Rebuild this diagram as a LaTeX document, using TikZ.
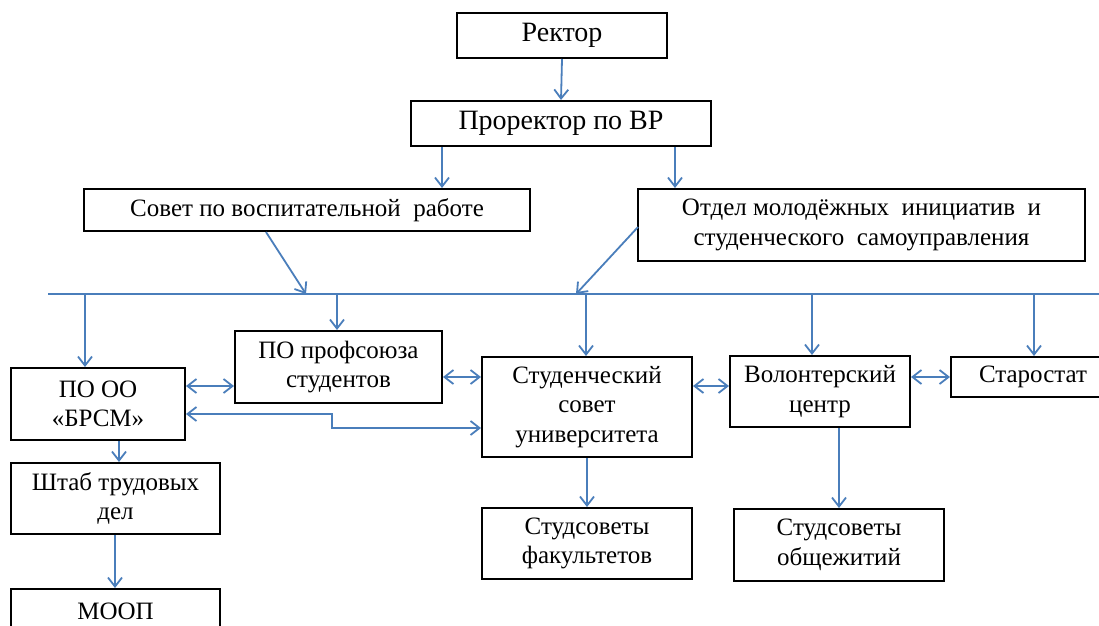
\documentclass[tikz,border=0pt]{standalone}
\usepackage{fontspec}
\setmainfont{Liberation Serif}
\newfontfamily\tnr{Liberation Serif}
\usetikzlibrary{arrows.meta}
\definecolor{conn}{RGB}{74,126,187}
\tikzset{
  box/.style={draw=black, line width=2pt, fill=white, align=center, inner sep=0pt,
    font=\tnr\fontsize{25}{29.5}\selectfont},
  bigbox/.style={box, font=\tnr\fontsize{28}{32}\selectfont},
  txt/.style={align=center, inner sep=0pt, font=\tnr\fontsize{25}{29.5}\selectfont},
  arr/.style={draw=conn, line width=1.8pt, -{Straight Barb[length=9pt,width=14pt,line width=1.8pt]}},
  darr/.style={draw=conn, line width=1.8pt, {Straight Barb[length=9pt,width=14pt,line width=1.8pt]}-{Straight Barb[length=9pt,width=14pt,line width=1.8pt]}},
  bus/.style={draw=conn, line width=1.8pt}
}
\begin{document}
\begin{tikzpicture}[x=1pt, y=-1pt]
\useasboundingbox (0,0) rectangle (1099,625);
\clip (0,0) rectangle (1099,625);
\fill[white] (0,0) rectangle (1099,625);

% boxes
\node[bigbox, minimum width=210, minimum height=45] (rektor) at (562,35.5) {Ректор};
\node[bigbox, minimum width=300, minimum height=45] (prorektor) at (561,123.5) {Проректор по ВР};
\node[box, minimum width=446, minimum height=42] (sovet) at (307,210) {Совет по воспитательной\ \ работе};
\node[box, minimum width=447, minimum height=72] (otdel) at (861.5,225) {Отдел молодёжных\ \ инициатив\ \ и\\студенческого\ \ самоуправления};
\node[box, minimum width=174, minimum height=72] (pooo) at (98,404) {ПО ОО\\«БРСМ»};
\node[box, minimum width=207, minimum height=72] (poprof) at (338.5,367) {ПО профсоюза\\студентов};
\node[box, minimum width=210, minimum height=100] (studsovet) at (587,407) {Студенческий\\совет\\университета};
\node[box, minimum width=180, minimum height=71] (volont) at (820,391.5) {Волонтерский\\центр};
\node[box, minimum width=164, minimum height=40] (starostat) at (1033,377) {Старостат};
\node[box, minimum width=209, minimum height=71] (shtab) at (115.5,498.5) {Штаб трудовых\\дел};
\node[box, minimum width=209, minimum height=72, anchor=north] (moop) at (115.5,588) {};
\node[txt] (mooptext) at (115.5,611) {МООП};
\node[box, minimum width=210, minimum height=71] (studfak) at (587,543.5) {Студсоветы\\факультетов};
\node[box, minimum width=210, minimum height=72] (studobsh) at (839,545) {Студсоветы\\общежитий};

% helper coordinates
\coordinate (busL) at (48,294);
\coordinate (busR) at (1099,294);
\coordinate (xa) at (442,0);
\coordinate (xb) at (675,0);
\coordinate (xc) at (266,0);
\coordinate (sovetEnd) at (306,294);
\coordinate (otdelEnd) at (576,294);
\coordinate (otdelStart) at (638,227);
\coordinate (d1) at (85,0);
\coordinate (d2) at (337,0);
\coordinate (d3) at (586,0);
\coordinate (d4) at (812,0);
\coordinate (d5) at (1034,0);
\coordinate (y377) at (0,377);
\coordinate (y386) at (0,386);
\coordinate (y414) at (0,414);
\coordinate (y428) at (0,428);
\coordinate (xe) at (332,0);
\coordinate (x119) at (119,0);
\coordinate (x115) at (115,0);
\coordinate (x587) at (587,0);
\coordinate (x839) at (839,0);

% top arrows
\draw[arr] (rektor.south) -- (prorektor.north);
\draw[arr] (prorektor.south -| xa) -- (sovet.north -| xa);
\draw[arr] (prorektor.south -| xb) -- (otdel.north -| xb);
\draw[arr] (sovet.south -| xc) -- (sovetEnd);
\draw[arr] (otdelStart) -- (otdelEnd);

% bus
\draw[bus] (busL) -- (busR);
\draw[arr] (busL -| d1) -- (pooo.north -| d1);
\draw[arr] (busL -| d2) -- (poprof.north -| d2);
\draw[arr] (busL -| d3) -- (studsovet.north -| d3);
\draw[arr] (busL -| d4) -- (volont.north -| d4);
\draw[arr] (busL -| d5) -- (starostat.north -| d5);

% horizontal links
\draw[darr] (pooo.east |- y386) -- (poprof.west |- y386);
\draw[darr] (poprof.east |- y377) -- (studsovet.west |- y377);
\draw[darr] (studsovet.east |- y386) -- (volont.west |- y386);
\draw[darr] (volont.east |- y377) -- (starostat.west |- y377);
\draw[darr] (pooo.east |- y414) -- (xe |- y414) -- (xe |- y428) -- (studsovet.west |- y428);

% lower arrows
\draw[arr] (pooo.south -| x119) -- (shtab.north -| x119);
\draw[arr] (shtab.south -| x115) -- (moop.north -| x115);
\draw[arr] (studsovet.south -| x587) -- (studfak.north -| x587);
\draw[arr] (volont.south -| x839) -- (studobsh.north -| x839);
\end{tikzpicture}
\end{document}
